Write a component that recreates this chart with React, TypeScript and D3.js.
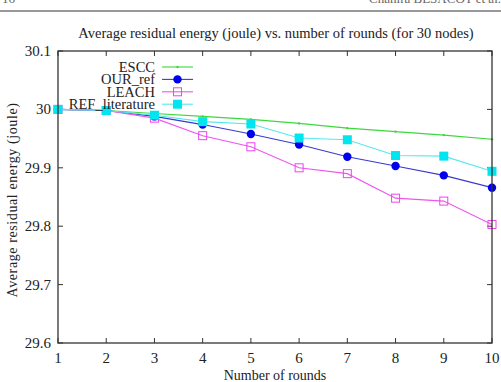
import { useEffect, useRef } from 'react';
import * as d3 from 'd3';

const rounds = [1, 2, 3, 4, 5, 6, 7, 8, 9, 10];
const escc = [30, 29.998, 29.993, 29.988, 29.983, 29.976, 29.968, 29.962, 29.956, 29.949];
const ourRef = [30, 29.998, 29.988, 29.974, 29.958, 29.94, 29.919, 29.903, 29.887, 29.866];
const leach = [30, 29.998, 29.985, 29.955, 29.936, 29.9, 29.89, 29.848, 29.843, 29.803];
const refLiterature = [30, 29.998, 29.99, 29.979, 29.975, 29.951, 29.948, 29.921, 29.92, 29.894];
const yTicks = [29.6, 29.7, 29.8, 29.9, 30, 30.1];

const series = [
  { name: 'ESCC', values: escc, line: '#3cd83c', mark: 'dot', fill: '#3cd83c' },
  { name: 'OUR_ref', values: ourRef, line: '#3a3ad0', mark: 'circle', fill: '#0000ee' },
  { name: 'LEACH', values: leach, line: '#ee55ee', mark: 'openSquare', fill: '#ee44ee' },
  { name: 'REF_literature', values: refLiterature, line: '#55e8ee', mark: 'square', fill: '#00e5ee' },
];

const W = 501;
const H = 382;
const margin = { top: 51, right: 9, bottom: 39, left: 58 };
const font = '"Liberation Serif", "Times New Roman", serif';

export default function App() {
  const ref = useRef<SVGSVGElement | null>(null);

  useEffect(() => {
    if (!ref.current) return;
    const svg = d3.select(ref.current);
    svg.selectAll('*').remove();

    const width = W - margin.left - margin.right;
    const height = H - margin.top - margin.bottom;

    const x = d3.scaleLinear().domain([1, 10]).range([0, width]);
    const y = d3.scaleLinear().domain([29.6, 30.1]).range([height, 0]);

    // running page header, cut at the top edge
    svg.append('line')
      .attr('x1', 0).attr('x2', W).attr('y1', 11).attr('y2', 11)
      .attr('stroke', '#777').attr('stroke-width', 1.5);
    svg.append('text').attr('x', 2).attr('y', 3)
      .attr('font-family', font).attr('font-size', 13).attr('fill', '#666').text('16');
    svg.append('text').attr('x', 501).attr('y', 3).attr('text-anchor', 'end')
      .attr('font-family', font).attr('font-size', 13).attr('fill', '#666').text('Chahira BESACOT et al.');

    svg.append('text')
      .attr('x', margin.left + width / 2 + 1).attr('y', 38)
      .attr('text-anchor', 'middle')
      .attr('font-family', font).attr('font-size', 14.5).attr('fill', '#222')
      .text('Average residual energy (joule) vs. number of rounds (for 30 nodes)');

    const g = svg.append('g').attr('transform', `translate(${margin.left},${margin.top})`);

    // tick marks on all four sides, pointing inward
    const tk = 5;
    rounds.forEach(r => {
      g.append('line').attr('x1', x(r)).attr('x2', x(r)).attr('y1', height).attr('y2', height - tk)
        .attr('stroke', '#333');
      g.append('line').attr('x1', x(r)).attr('x2', x(r)).attr('y1', 0).attr('y2', tk)
        .attr('stroke', '#333');
      g.append('text').attr('x', x(r)).attr('y', height + 20)
        .attr('text-anchor', 'middle').attr('font-family', font).attr('font-size', 15)
        .attr('fill', '#222').text(r);
    });
    yTicks.forEach(v => {
      g.append('line').attr('x1', 0).attr('x2', tk).attr('y1', y(v)).attr('y2', y(v))
        .attr('stroke', '#333');
      g.append('line').attr('x1', width).attr('x2', width - tk).attr('y1', y(v)).attr('y2', y(v))
        .attr('stroke', '#333');
      g.append('text').attr('x', -7).attr('y', y(v) + 5)
        .attr('text-anchor', 'end').attr('font-family', font).attr('font-size', 15)
        .attr('fill', '#222').text(d3.format('~g')(v));
    });

    g.append('text')
      .attr('x', width / 2).attr('y', height + 37)
      .attr('text-anchor', 'middle').attr('font-family', font).attr('font-size', 14)
      .attr('fill', '#222').text('Number of rounds');

    svg.append('text')
      .attr('transform', `translate(17,${margin.top + height / 2 + 3}) rotate(-90)`)
      .attr('text-anchor', 'middle').attr('font-family', font).attr('font-size', 14)
      .attr('letter-spacing', 0.6).attr('fill', '#222')
      .text('Average residual energy (joule)');

    const drawMark = (sel: d3.Selection<SVGGElement, unknown, null, undefined>, kind: string, cx: number, cy: number, color: string) => {
      if (kind === 'dot') {
        sel.append('circle').attr('cx', cx).attr('cy', cy).attr('r', 1.2).attr('fill', color);
      } else if (kind === 'circle') {
        sel.append('circle').attr('cx', cx).attr('cy', cy).attr('r', 4.2).attr('fill', color);
      } else if (kind === 'openSquare') {
        sel.append('rect').attr('x', cx - 4).attr('y', cy - 4).attr('width', 8).attr('height', 8)
          .attr('fill', 'none').attr('stroke', color).attr('stroke-width', 1);
      } else {
        sel.append('rect').attr('x', cx - 4.5).attr('y', cy - 4.5).attr('width', 9).attr('height', 9)
          .attr('fill', color);
      }
    };

    const line = d3.line<number>().x((_, i) => x(rounds[i])).y(d => y(d));

    series.forEach(s => {
      const sg = g.append('g');
      sg.append('path').datum(s.values)
        .attr('fill', 'none').attr('stroke', s.line).attr('stroke-width', 1.1).attr('d', line);
      s.values.forEach((v, i) => drawMark(sg, s.mark, x(rounds[i]), y(v), s.fill));
    });

    // legend, labels right-aligned against short sample lines
    const legend = svg.append('g');
    series.forEach((s, i) => {
      const ly = 67 + i * 12.4;
      legend.append('text').attr('x', 155).attr('y', ly + 5)
        .attr('text-anchor', 'end').attr('font-family', font).attr('font-size', 14.5)
        .attr('fill', '#222').text(s.name);
      legend.append('line').attr('x1', 162).attr('x2', 193).attr('y1', ly).attr('y2', ly)
        .attr('stroke', s.line).attr('stroke-width', 1.1);
      drawMark(legend, s.mark, 177.5, ly, s.fill);
    });

    g.append('rect').attr('x', 0).attr('y', 0).attr('width', width).attr('height', height)
      .attr('fill', 'none').attr('stroke', '#333').attr('stroke-width', 1.3);
  }, []);

  return (
    <svg ref={ref} width={W} height={H}
      style={{ position: 'absolute', left: 0, top: 0, background: '#fff' }} />
  );
}
